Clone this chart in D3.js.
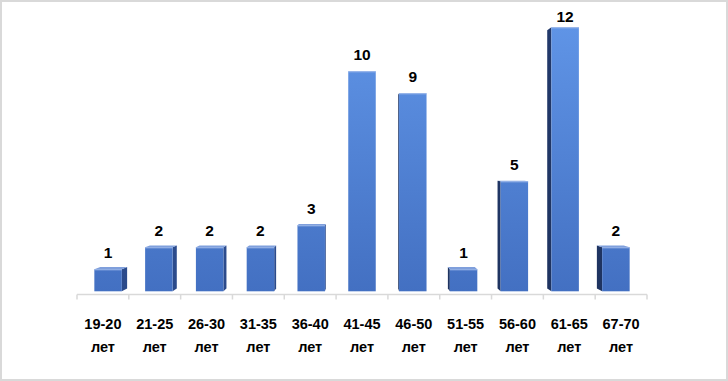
<!DOCTYPE html>
<html><head><meta charset="utf-8">
<script src="https://cdn.jsdelivr.net/npm/d3@7"></script>
<style>html,body{margin:0;padding:0;background:#fff;}svg{display:block;}</style>
</head><body>
<svg id="chart" width="728" height="381"></svg>
<script>
const categories = ["19-20","21-25","26-30","31-35","36-40","41-45","46-50","51-55","56-60","61-65","67-70"];
const unitLabel = "лет";
const values = [1,2,2,2,3,10,9,1,5,12,2];
const yDomain = [0,12];

const W = 728, H = 381;
const svg = d3.select("#chart");
svg.append("rect").attr("x",1).attr("y",1).attr("width",W-2).attr("height",H-2)
  .attr("fill","#fff").attr("stroke","#d9d9d9").attr("stroke-width",2);

const x = d3.scaleBand().domain(categories).range([77,647]).paddingInner(0).paddingOuter(0);
const y = d3.scaleLinear().domain(yDomain).range([291.3,27.3]);

const defs = svg.append("defs");
function grad(id, c0, c1){
  const g = defs.append("linearGradient").attr("id",id).attr("gradientUnits","userSpaceOnUse")
    .attr("x1",0).attr("y1",20).attr("x2",0).attr("y2",292);
  g.append("stop").attr("offset",0).attr("stop-color",c0);
  g.append("stop").attr("offset",1).attr("stop-color",c1);
}
grad("front","#6095e7","#4370c2");
grad("sideR","#33569e","#2b4a8a");
grad("sideL","#22396b","#1e3360");

// perspective
const cx = 362, cy = 161, persp = 0.98, depth = 0.978, fw = 27.5;
const back = p => [cx + (p[0]-cx)*depth, cy + (p[1]-cy)*depth];

// axis
const axisY = 294.5;
const axisG = svg.append("g");
axisG.append("line").attr("x1",x.range()[0]).attr("x2",x.range()[1])
  .attr("y1",axisY).attr("y2",axisY).attr("stroke","#d9d9d9").attr("stroke-width",1.5);
const tickXs = categories.map(c=>x(c)).concat([x.range()[1]]);
axisG.selectAll("line.tick").data(tickXs).join("line").attr("class","tick")
  .attr("x1",d=>d).attr("x2",d=>d).attr("y1",axisY).attr("y2",axisY+5)
  .attr("stroke","#d9d9d9").attr("stroke-width",1.5);

const bars = svg.append("g");
categories.forEach((c,i)=>{
  const bc = x(c) + x.bandwidth()/2;
  const fc = cx + (bc-cx)*persp;
  const x0 = fc - fw/2, x1 = fc + fw/2;
  const yT = y(values[i]), yB = y(0);
  const g = bars.append("g");
  const pts = a => a.map(p=>p.join(",")).join(" ");
  if (x1 < cx) {
    const bT = back([x1,yT]), bB = back([x1,yB]);
    g.append("polygon").attr("points",pts([[x1,yT],[x1,yB],bB,bT])).attr("fill","url(#sideR)");
  } else if (x0 > cx) {
    const bT = back([x0,yT]), bB = back([x0,yB]);
    g.append("polygon").attr("points",pts([[x0,yT],[x0,yB],bB,bT])).attr("fill","url(#sideL)");
  }
  if (yT > cy) {
    g.append("polygon").attr("points",pts([[x0,yT],[x1,yT],back([x1,yT]),back([x0,yT])]))
      .attr("fill","#7f9fdc");
  }
  g.append("rect").attr("x",x0).attr("y",yT).attr("width",fw).attr("height",yB-yT)
    .attr("fill","url(#front)");
  g.append("line").attr("x1",x0).attr("x2",x1).attr("y1",yT+0.5).attr("y2",yT+0.5)
    .attr("stroke","#9db8ea").attr("stroke-width",1);
  g.append("text").attr("x",fc).attr("y",Math.max(yT-16.5,16)).attr("dy","0.36em")
    .attr("text-anchor","middle").attr("font-family","Arial, 'Liberation Sans', sans-serif")
    .attr("font-weight","bold").attr("font-size",15.5).attr("fill","#000").text(values[i]);
});

const labels = svg.append("g").attr("font-family","Arial, 'Liberation Sans', sans-serif")
  .attr("font-weight","bold").attr("font-size",14.5).attr("fill","#000").attr("text-anchor","middle");
categories.forEach(c=>{
  const bc = x(c) + x.bandwidth()/2;
  labels.append("text").attr("x",bc).attr("y",328.5).text(c);
  labels.append("text").attr("x",bc).attr("y",352).text(unitLabel);
});
</script>
</body></html>
